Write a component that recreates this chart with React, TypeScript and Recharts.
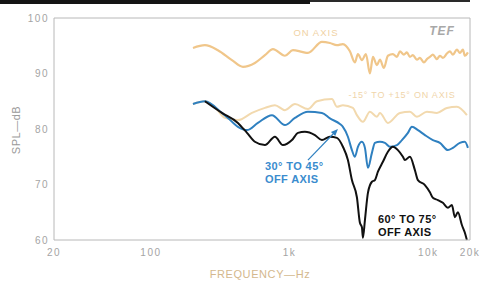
import React from 'react';
import { LineChart, Line, XAxis, YAxis, ReferenceLine } from 'recharts';

// ---- data ----
const xTicks = [20, 100, 1000, 10000, 20000];
const xTickLabels = ['20', '100', '1k', '10k', '20k'];
const yTicks = [60, 70, 80, 90, 100];

const onAxisFreq = [201, 245, 304, 384, 461, 562, 664, 759, 926, 1057, 1228, 1356, 1711, 1954, 2195, 2424, 2723, 2958, 3110, 3323, 3553, 3796, 3991, 4264, 4481, 4790, 5117, 5559, 5943, 6246, 6673, 7015, 7375, 7746, 8279, 8705, 9303, 9779, 10280, 10800, 11540, 12130, 12750, 13630, 14320, 15060, 16090, 16910, 17780, 18370, 19320];
const onAxisDb = [94.6, 95.1, 94.2, 92.4, 91.2, 91.9, 93.3, 94.4, 93.2, 94.2, 93.9, 93.7, 95.7, 95.5, 95.1, 95.3, 94.0, 92.0, 93.5, 92.4, 93.5, 90.0, 93.0, 91.5, 92.5, 91.0, 93.2, 93.5, 93.0, 94.0, 93.4, 93.8, 93.0, 93.3, 92.5, 92.8, 92.0, 92.6, 93.0, 93.4, 92.6, 93.2, 92.8, 93.6, 94.0, 93.4, 94.3, 93.7, 94.3, 93.2, 93.8];

const inner15Freq = [201, 245, 290, 342, 424, 535, 664, 784, 926, 1093, 1356, 1575, 2020, 2195, 2424, 2861, 3058, 3380, 3796, 4264, 4481, 5117, 6246, 7375, 8279, 9779, 11540, 13630, 16090, 18990];
const inner15Db = [84.5, 85.0, 83.9, 82.0, 81.6, 82.9, 83.8, 84.3, 83.4, 84.5, 83.6, 85.0, 85.4, 84.0, 84.3, 83.8, 82.5, 81.3, 83.1, 82.2, 82.9, 81.1, 82.9, 83.1, 82.2, 83.1, 82.9, 83.8, 84.0, 82.5];

const off30Freq = [201, 245, 325, 359, 424, 493, 591, 746, 926, 1093, 1356, 1711, 1954, 2307, 2424, 2634, 2815, 2958, 3110, 3323, 3494, 3672, 3924, 4124, 4481, 4869, 5290, 5943, 6457, 7134, 7623, 8423, 9460, 10800, 12130, 13860, 15060, 16910, 18370, 19320];
const off30Db = [84.5, 85.0, 82.9, 82.0, 80.4, 79.8, 81.1, 82.5, 80.7, 82.0, 83.1, 82.9, 81.9, 80.9, 80.4, 78.6, 76.2, 75.0, 76.8, 77.7, 76.6, 73.0, 75.7, 77.5, 77.7, 77.5, 76.8, 77.1, 78.0, 79.3, 80.4, 79.8, 78.9, 78.0, 77.5, 76.2, 76.6, 77.5, 77.7, 76.6];

const off60Freq = [245, 325, 424, 493, 562, 664, 784, 895, 1040, 1149, 1290, 1523, 1711, 1954, 2195, 2424, 2634, 2815, 3058, 3215, 3323, 3380, 3494, 3672, 3924, 4124, 4335, 4710, 5117, 5559, 6042, 6564, 6785, 7375, 8010, 8423, 9460, 10280, 10800, 11740, 12750, 13860, 14810, 15560, 16360, 17480, 18370, 18990];
const off60Db = [85.0, 82.9, 81.1, 79.3, 77.7, 77.1, 78.6, 77.1, 78.0, 79.3, 79.5, 78.9, 78.0, 78.6, 78.4, 76.8, 74.4, 70.8, 67.7, 63.1, 62.3, 60.4, 63.6, 68.5, 70.5, 70.8, 72.3, 74.1, 75.9, 76.8, 76.2, 75.0, 74.4, 75.0, 72.6, 70.8, 69.9, 68.6, 67.6, 67.2, 66.7, 65.8, 66.3, 64.1, 65.0, 62.7, 61.3, 60.0];

const arrowFreq = [1356, 2232];
const arrowDb = [74.4, 80.0];

const toRows = (f: number[], d: number[]) => f.map((v, i) => ({ f: v, db: d[i] }));

const onAxis = toRows(onAxisFreq, onAxisDb);
const inner15 = toRows(inner15Freq, inner15Db);
const off30 = toRows(off30Freq, off30Db);
const off60 = toRows(off60Freq, off60Db);

const AXIS = '#b8b8b8';
const TICK = '#a4a4a4';
const FONT = '"Liberation Sans", Arial, sans-serif';

const ArrowShape = (props: any) => {
  const { x1, y1, x2, y2 } = props;
  if ([x1, y1, x2, y2].some((v) => typeof v !== 'number' || isNaN(v))) return <g />;
  const ang = Math.atan2(y2 - y1, x2 - x1);
  const len = 7;
  const w = 3;
  const bx = x2 - len * Math.cos(ang);
  const by = y2 - len * Math.sin(ang);
  const px = -Math.sin(ang) * w;
  const py = Math.cos(ang) * w;
  return (
    <g>
      <line x1={x1} y1={y1} x2={bx} y2={by} stroke="#2f80c0" strokeWidth={1.2} />
      <polygon points={`${x2},${y2} ${bx + px},${by + py} ${bx - px},${by - py}`} fill="#2f80c0" />
    </g>
  );
};

export default function App() {
  return (
    <div style={{ position: 'absolute', left: 0, top: 0, width: 492, height: 295, background: '#fff' }}>
      <LineChart width={492} height={295} margin={{ top: 18, right: 22, bottom: 25, left: 14 }}>
        <XAxis
          dataKey="f"
          type="number"
          scale="log"
          domain={[20, 20000]}
          allowDataOverflow
          ticks={xTicks}
          tickFormatter={(v: number) => xTickLabels[xTicks.indexOf(v)] ?? String(v)}
          height={30}
          stroke={AXIS}
          tickLine={false}
          tickSize={0}
          tickMargin={9}
          tick={{ fill: TICK, fontSize: 10, fontFamily: FONT, letterSpacing: 1.5 }}
        />
        <YAxis
          type="number"
          domain={[60, 100]}
          ticks={yTicks}
          width={40}
          stroke={AXIS}
          tickLine={false}
          tickSize={0}
          tickMargin={5}
          tick={{ fill: TICK, fontSize: 10, fontFamily: FONT, letterSpacing: 1.5 }}
        />
        <ReferenceLine y={100} stroke={AXIS} />
        <ReferenceLine x={20000} stroke={AXIS} />
        <Line data={inner15} dataKey="db" type="monotone" stroke="#f2d9ae" strokeWidth={2} dot={false} isAnimationActive={false} />
        <Line data={onAxis} dataKey="db" type="monotone" stroke="#f0c68a" strokeWidth={2.2} dot={false} isAnimationActive={false} />
        <Line data={off30} dataKey="db" type="monotone" stroke="#2f80c0" strokeWidth={2} dot={false} isAnimationActive={false} />
        <Line data={off60} dataKey="db" type="monotone" stroke="#111111" strokeWidth={2} dot={false} isAnimationActive={false} />
        <ReferenceLine
          segment={[{ x: arrowFreq[0], y: arrowDb[0] }, { x: arrowFreq[1], y: arrowDb[1] }]}
          stroke="#2f80c0"
          shape={ArrowShape}
        />
      </LineChart>
      <svg width={492} height={295} style={{ position: 'absolute', left: 0, top: 0, pointerEvents: 'none' }}>
        <rect x={0} y={0} width={310} height={4} fill="#151515" />
        <rect x={310} y={0} width={160} height={2} fill="#2a2a2a" />
        <text x={16} y={130} transform="rotate(-90 16 130)" textAnchor="middle" dominantBaseline="central" fill="#9a9a9a" fontSize={11} fontFamily={FONT} letterSpacing={0.5}>SPL—dB</text>
        <text x={260} y={274} textAnchor="middle" dominantBaseline="central" fill="#d4b88e" fontSize={11} fontFamily={FONT} letterSpacing={0.6}>FREQUENCY—Hz</text>
        <text x={316} y={32} textAnchor="middle" dominantBaseline="central" fill="#f0d2a4" fontSize={9.5} fontFamily={FONT} letterSpacing={1}>ON AXIS</text>
        <text x={442} y={31} textAnchor="middle" dominantBaseline="central" fill="#a8a8a8" fontSize={12} fontStyle="italic" fontWeight="bold" fontFamily={FONT} letterSpacing={1}>TEF</text>
        <text x={402} y={95} textAnchor="middle" dominantBaseline="central" fill="#f0d5aa" fontSize={9} fontFamily={FONT} letterSpacing={0.8}>-15° TO +15° ON AXIS</text>
        <text x={265} y={166} dominantBaseline="central" fill="#3a8cce" fontSize={11} fontWeight="bold" fontFamily={FONT} letterSpacing={0.4}>30° TO 45°</text>
        <text x={265} y={179} dominantBaseline="central" fill="#3a8cce" fontSize={11} fontWeight="bold" fontFamily={FONT} letterSpacing={0.4}>OFF AXIS</text>
        <text x={378} y={219} dominantBaseline="central" fill="#111" fontSize={11} fontWeight="bold" fontFamily={FONT} letterSpacing={0.4}>60° TO 75°</text>
        <text x={378} y={232} dominantBaseline="central" fill="#111" fontSize={11} fontWeight="bold" fontFamily={FONT} letterSpacing={0.4}>OFF AXIS</text>
      </svg>
    </div>
  );
}
